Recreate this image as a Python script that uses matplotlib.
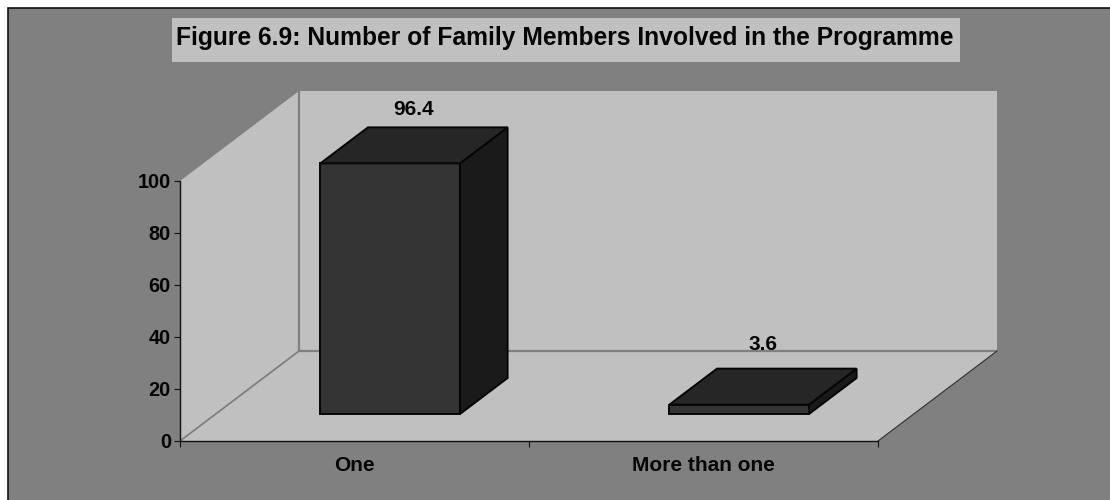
import matplotlib
matplotlib.use("Agg")
import matplotlib.pyplot as plt
from matplotlib.patches import Polygon, Rectangle

# chart data
categories = ["One", "More than one"]
values = [96.4, 3.6]
y_ticks = [0, 20, 40, 60, 80, 100]
title = "Figure 6.9: Number of Family Members Involved in the Programme"

# colours
frame_grey = "#808080"
wall_grey = "#C0C0C0"
bar_front = "#333333"
bar_top = "#262626"
bar_side = "#1A1A1A"

plt.rcParams["font.family"] = ["Liberation Sans", "DejaVu Sans"]
plt.rcParams["font.weight"] = "bold"

W, H = 1110, 500
fig = plt.figure(figsize=(W / 100, H / 100), dpi=100, facecolor="white")


# figure-level rectangle given in pixels from the top left
def fig_rect(x0, y0, x1, y1, **kw):
    r = Rectangle((x0 / W, 1 - y1 / H), (x1 - x0) / W, (y1 - y0) / H,
                  transform=fig.transFigure, **kw)
    fig.add_artist(r)


fig_rect(7.5, 8, 1130, 520, facecolor=frame_grey, edgecolor="#101010", linewidth=1.2, zorder=-2)
fig_rect(172, 18, 960, 62, facecolor=wall_grey, edgecolor="none", zorder=-1)
fig.text(565 / W, 1 - 38.5 / H, title, ha="center", va="center",
         fontsize=17.7, fontweight="bold", color="#050505")

ax = fig.add_axes([180 / W, (H - 441) / H, 698 / W, 260 / H])
ax.set_xlim(0, 2)
ax.set_ylim(0, 100)
ax.patch.set_visible(False)

# oblique depth: how far the back of the box sits from the front, in data units
depth_x = 119 / 349
depth_y = 90 / 2.6


def proj(x, v, d):
    return (x + d * depth_x, v + d * depth_y)


def face(pts, **kw):
    ax.add_patch(Polygon([proj(*p) for p in pts], closed=True, clip_on=False, **kw))


# walls and floor
face([(0, 0, 1), (2, 0, 1), (2, 100, 1), (0, 100, 1)], facecolor=wall_grey, edgecolor="none", zorder=1)
face([(0, 0, 0), (0, 0, 1), (0, 100, 1), (0, 100, 0)], facecolor=wall_grey, edgecolor="none", zorder=1)
face([(0, 0, 0), (2, 0, 0), (2, 0, 1), (0, 0, 1)], facecolor=wall_grey, edgecolor="none", zorder=1)

wall_lines = [
    ([(0, 0, 1), (0, 100, 1)], 1.6),
    ([(0, 0, 1), (2, 0, 1)], 1.6),
    ([(0, 0, 0), (0, 0, 1)], 1.3),
]
for pts, lw in wall_lines:
    xs, ys = zip(*[proj(*p) for p in pts])
    ax.plot(xs, ys, color=frame_grey, lw=lw, clip_on=False, zorder=1.5, solid_capstyle="butt")

# thin dark edge on the right of the floor
xs, ys = zip(proj(2, 0, 0), proj(2, 0, 1))
ax.plot(xs, ys, color="#303030", lw=0.8, clip_on=False, zorder=1.5)

# bars
bar_half = 0.2
d0, d1 = 0.3, 0.7
label_lift = [25.6, 30]
for i, v in enumerate(values):
    c = i + 0.5
    l, r = c - bar_half, c + bar_half
    style = dict(edgecolor="#050505", linewidth=1.4, joinstyle="miter", zorder=3)
    face([(l, 0, d0), (r, 0, d0), (r, v, d0), (l, v, d0)], facecolor=bar_front, **style)
    face([(r, 0, d0), (r, 0, d1), (r, v, d1), (r, v, d0)], facecolor=bar_side, **style)
    face([(l, v, d0), (r, v, d0), (r, v, d1), (l, v, d1)], facecolor=bar_top, **style)
    ax.annotate(f"{v}", xy=proj(c, v, 0.5), xytext=(0, label_lift[i]), textcoords="offset points",
                ha="center", va="center", fontsize=15, fontweight="bold",
                color="#050505", annotation_clip=False, zorder=4)

# axes
for side in ["top", "right"]:
    ax.spines[side].set_visible(False)
for side in ["left", "bottom"]:
    ax.spines[side].set_color("#101010")
    ax.spines[side].set_linewidth(1.0)
ax.set_yticks(y_ticks)
ax.set_yticklabels([str(t) for t in y_ticks])
ax.set_xticks([0, 1, 2])
ax.set_xticklabels([])
ax.set_xticks([i + 0.5 for i in range(len(categories))], minor=True)
ax.set_xticklabels(categories, minor=True)
ax.tick_params(axis="y", length=4.5, width=0.8, color="#101010", pad=2, labelsize=14.3, labelcolor="#050505")
ax.tick_params(axis="x", which="major", length=4.5, width=0.8, color="#101010")
ax.tick_params(axis="x", which="minor", length=0, pad=10.5, labelsize=15, labelcolor="#050505")

fig.savefig("out.png", dpi=100, facecolor="white")
